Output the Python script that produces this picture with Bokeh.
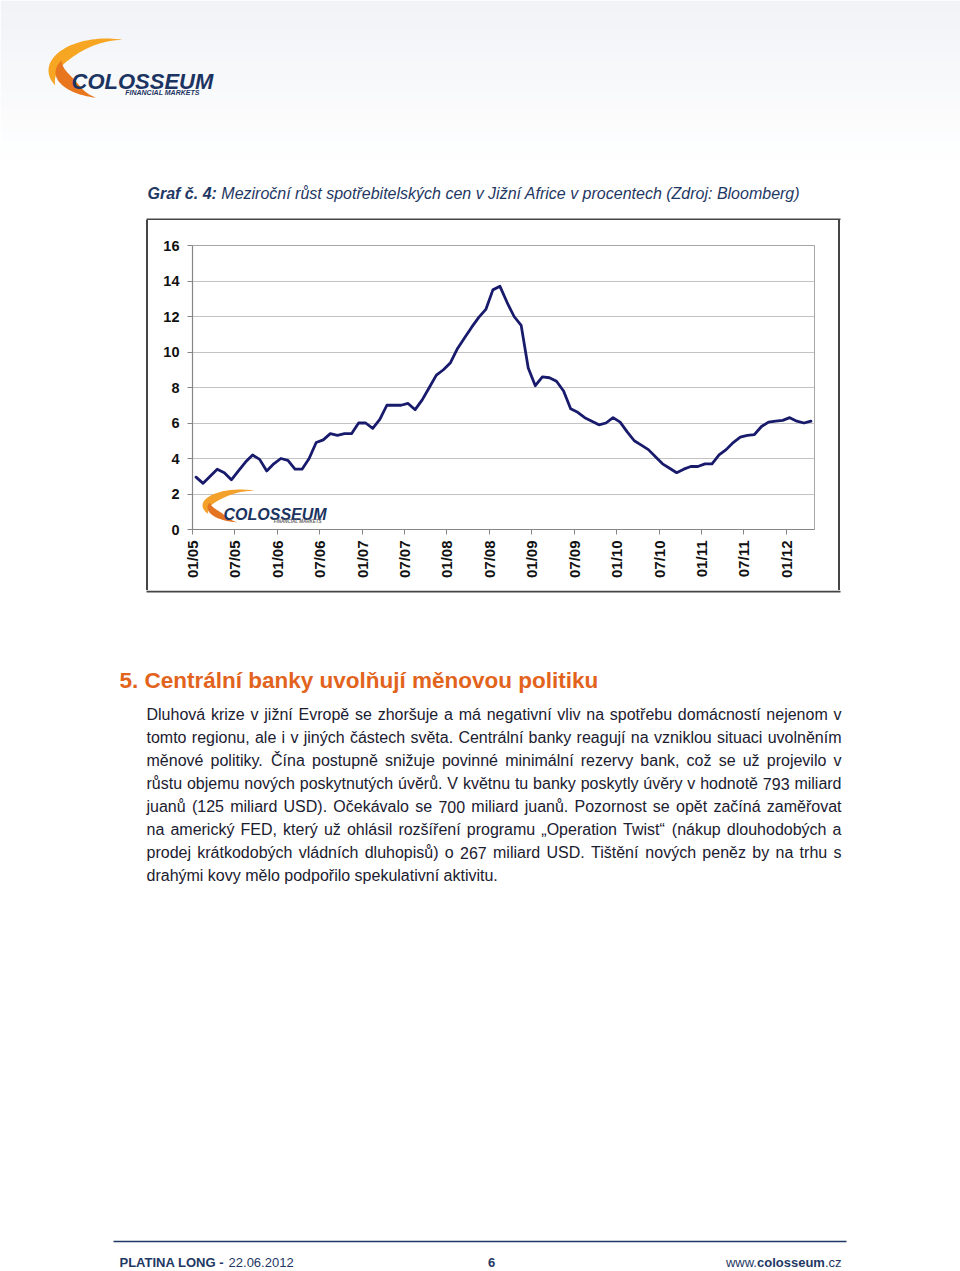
import math
import unicodedata
import numpy as np
from bokeh.plotting import figure
from bokeh.layouts import column, row
from bokeh.models import Label, PolyAnnotation, FixedTicker, Range1d, Spacer
from bokeh.embed import file_html
from bokeh.resources import INLINE

# ---------------- data ----------------
months = list(range(88))  # monthly index, Jan 2005 .. Apr 2012
cpi = [2.95, 2.6, 3.0, 3.4, 3.2, 2.8, 3.3, 3.8, 4.2, 3.95, 3.3, 3.7,
       4.0, 3.9, 3.4, 3.4, 4.0, 4.9, 5.05, 5.4, 5.3, 5.4, 5.4, 6.0,
       6.0, 5.7, 6.2, 7.0, 7.0, 7.0, 7.1, 6.75, 7.3, 8.0, 8.7, 9.0,
       9.4, 10.2, 10.8, 11.4, 11.95, 12.4, 13.5, 13.7, 12.8, 12.0, 11.5, 9.1,
       8.1, 8.6, 8.55, 8.35, 7.8, 6.8, 6.6, 6.3, 6.1, 5.9, 6.0, 6.3,
       6.05, 5.5, 5.0, 4.75, 4.5, 4.1, 3.7, 3.45, 3.2, 3.4, 3.55, 3.55,
       3.7, 3.7, 4.2, 4.5, 4.9, 5.2, 5.3, 5.35, 5.8, 6.05, 6.1, 6.15,
       6.3, 6.1, 6.0, 6.1]
tick_pos = [0, 6, 12, 18, 24, 30, 36, 42, 48, 54, 60, 66, 72, 78, 84]
tick_labels = ["01/05", "07/05", "01/06", "07/06", "01/07", "07/07", "01/08", "07/08",
               "01/09", "07/09", "01/10", "07/10", "01/11", "07/11", "01/12"]
y_ticks = [0, 2, 4, 6, 8, 10, 12, 14, 16]

caption_bold = "Graf č. 4:"
caption_rest = "Meziroční růst spotřebitelských cen v Jižní Africe v procentech (Zdroj: Bloomberg)"
heading = "5. Centrální banky uvolňují měnovou politiku"
body_lines = [
    "Dluhová krize v jižní Evropě se zhoršuje a má negativní vliv na spotřebu domácností nejenom v",
    "tomto regionu, ale i v jiných částech světa. Centrální banky reagují na vzniklou situaci uvolněním",
    "měnové politiky. Čína postupně snižuje povinné minimální rezervy bank, což se už projevilo v",
    "růstu objemu nových poskytnutých úvěrů. V květnu tu banky poskytly úvěry v hodnotě 793 miliard",
    "juanů (125 miliard USD). Očekávalo se 700 miliard juanů. Pozornost se opět začíná zaměřovat",
    "na americký FED, který už ohlásil rozšíření programu „Operation Twist“ (nákup dlouhodobých a",
    "prodej krátkodobých vládních dluhopisů) o 267 miliard USD. Tištění nových peněz by na trhu s",
    "drahými kovy mělo podpořilo spekulativní aktivitu.",
]

# ---------------- geometry (page pixels) ----------------
PW, PH = 960, 1271
HEAD_H = 220             # header panel height
CH_X0, CH_X1 = 148, 838  # chart figure horizontal extent
CH_Y1 = 590              # chart figure bottom
L, R, T, B = 192, 814, 245, 529   # plot frame in page px
XMAX, YMAX = 88, 16

REG = {' ': 278, '(': 333, ')': 333, ',': 278, '-': 333, '.': 278, '/': 278, ':': 278,
       '„': 333, '“': 333, 'A': 667, 'B': 667, 'C': 722, 'D': 722, 'E': 667, 'F': 611,
       'G': 778, 'H': 722, 'I': 278, 'J': 500, 'K': 667, 'L': 556, 'M': 833, 'N': 722,
       'O': 778, 'P': 667, 'Q': 778, 'R': 722, 'S': 667, 'T': 611, 'U': 722, 'V': 667,
       'W': 944, 'X': 667, 'Y': 667, 'Z': 611, 'a': 556, 'b': 556, 'c': 500, 'd': 556,
       'e': 556, 'f': 278, 'g': 556, 'h': 556, 'i': 222, 'j': 222, 'k': 500, 'l': 222,
       'm': 833, 'n': 556, 'o': 556, 'p': 556, 'q': 556, 'r': 333, 's': 500, 't': 278,
       'u': 556, 'v': 500, 'w': 722, 'x': 500, 'y': 500, 'z': 500}
BOLD = {' ': 278, '(': 333, ')': 333, ',': 278, '-': 333, '.': 278, '/': 278, ':': 333,
        'A': 722, 'B': 722, 'C': 722, 'D': 722, 'E': 667, 'F': 611, 'G': 778, 'H': 722,
        'I': 278, 'J': 556, 'K': 722, 'L': 611, 'M': 833, 'N': 722, 'O': 778, 'P': 667,
        'Q': 778, 'R': 722, 'S': 667, 'T': 611, 'U': 722, 'V': 667, 'W': 944, 'X': 667,
        'Y': 667, 'Z': 611, 'a': 556, 'b': 611, 'c': 556, 'd': 611, 'e': 556, 'f': 333,
        'g': 611, 'h': 611, 'i': 278, 'j': 278, 'k': 556, 'l': 278, 'm': 889, 'n': 611,
        'o': 611, 'p': 611, 'q': 611, 'r': 389, 's': 556, 't': 333, 'u': 611, 'v': 556,
        'w': 778, 'x': 556, 'y': 556, 'z': 500}


def tw(s, size, bold=False):
    tbl = BOLD if bold else REG
    w = 0
    for ch in s:
        if ch.isdigit():
            w += 556
        elif ch in tbl:
            w += tbl[ch]
        elif ch in "íìîï":
            w += 278
        else:
            b = unicodedata.normalize("NFD", ch)[0]
            w += tbl.get(b, 556)
    return w * size / 1000.0


# ---------------- helpers ----------------
def canvas_fig(w, h):
    f = figure(width=w, height=h, x_range=Range1d(0, w), y_range=Range1d(h, 0),
               x_axis_type=None, y_axis_type=None, min_border=0,
               toolbar_location=None, output_backend="svg", title=None)
    f.outline_line_color = None
    f.background_fill_color = "white"
    f.border_fill_color = "white"
    return f


class Panel:
    def __init__(self, fig, ox, oy, conv=None):
        self.fig, self.ox, self.oy, self.conv = fig, ox, oy, conv

    def c(self, x, y):
        if self.conv:
            return self.conv(x, y)
        return x - self.ox, y - self.oy

    def poly(self, xs, ys, fill=None, line=None, lw=1.0):
        pts = [self.c(x, y) for x, y in zip(xs, ys)]
        self.fig.add_layout(PolyAnnotation(
            xs=[q[0] for q in pts], ys=[q[1] for q in pts],
            fill_color=fill, fill_alpha=1.0 if fill else 0.0,
            line_color=line, line_width=lw, line_alpha=1.0 if line else 0.0))

    def lab(self, x, y, text, size, color, style="normal", align="left",
            font="Liberation Sans"):
        qx, qy = self.c(x, y)
        self.fig.add_layout(Label(x=qx, y=qy, text=text, text_font=font,
                                  text_font_size=f"{size}px", text_font_style=style,
                                  text_color=color, text_align=align,
                                  text_baseline="alphabetic"))

    def crescent(self, cx, cy, rx, ry, a1, a2, frac, color, n=40):
        th = np.radians(np.linspace(a1, a2, n))
        f = frac * np.sin(np.pi * (th - th[0]) / (th[-1] - th[0]))
        ox = cx + rx * np.cos(th)
        oy = cy - ry * np.sin(th)
        ix = cx + rx * (1 - f) * np.cos(th)
        iy = cy - ry * (1 - f) * np.sin(th)
        self.poly(list(ox) + list(ix[::-1]), list(oy) + list(iy[::-1]), fill=color)


NAVY = "#1f3864"
LOGO_NAVY = "#1c3461"
FRAME = "#454545"

# ---------------- header ----------------
head = canvas_fig(PW, HEAD_H)
hp = Panel(head, 0, 0)
top = np.array([241, 243, 247])
for k in range(17):
    y0 = k * 10
    c = top + (np.array([255, 255, 255]) - top) * (k / 16.0)
    col = "#%02x%02x%02x" % tuple(int(round(v)) for v in c)
    hp.poly([0, PW, PW, 0], [y0, y0, y0 + 10.5, y0 + 10.5], fill=col)
hp.crescent(106, 70, 58, 32, 74, 208, 0.28, "#f6a623")
hp.crescent(108, 72, 53, 26, 152, 256, 0.30, "#e8761f")
hp.lab(71, 81, "COLOSSEUM", 22, LOGO_NAVY, "bold italic")
hp.lab(199, 92, "FINANCIAL MARKETS", 7, LOGO_NAVY, "bold italic", "right")
hp.lab(147, 193, caption_bold, 16, NAVY, "bold italic")
hp.lab(147 + tw(caption_bold + " ", 16, bold=True), 193, caption_rest, 16, NAVY, "italic")
hp.poly([146, 840, 840, 146], [218, 218, 220, 220], fill=FRAME)

# ---------------- chart ----------------
p = figure(width=CH_X1 - CH_X0, height=CH_Y1 - HEAD_H, x_range=(0, XMAX), y_range=(0, YMAX),
           output_backend="svg", toolbar_location=None,
           min_border_left=L - CH_X0, min_border_right=CH_X1 - R,
           min_border_top=T - HEAD_H, min_border_bottom=CH_Y1 - B)
p.background_fill_color = "white"
p.border_fill_color = "white"
p.outline_line_color = "#a6a6a6"
p.xaxis.ticker = FixedTicker(ticks=tick_pos)
p.xaxis.major_label_overrides = {t: s for t, s in zip(tick_pos, tick_labels)}
p.xaxis.major_label_orientation = math.pi / 2
p.yaxis.ticker = FixedTicker(ticks=y_ticks)
for ax in (p.xaxis, p.yaxis):
    ax.major_label_text_font = "Liberation Sans"
    ax.major_label_text_font_style = "bold"
    ax.major_label_text_color = "#111111"
    ax.axis_line_color = "#868686"
    ax.axis_line_width = 1.2
    ax.major_tick_line_color = "#868686"
    ax.major_tick_out = 5
    ax.major_tick_in = 0
    ax.minor_tick_line_color = None
p.xaxis.major_label_text_font_size = "15px"
p.yaxis.major_label_text_font_size = "14.5px"
p.xaxis.major_label_standoff = 6
p.yaxis.major_label_standoff = 8
p.xgrid.visible = False
p.ygrid.grid_line_color = "#c3c3c3"
p.ygrid.grid_line_width = 1

p.line(x=[m + 0.5 for m in months], y=cpi, line_color="#181a6c", line_width=2.8,
       line_join="round", line_cap="round")

cp = Panel(p, 0, 0, conv=lambda x, y: ((x - L) * XMAX / (R - L), (B - y) * YMAX / (B - T)))
cp.crescent(240, 505, 38, 16, 68, 212, 0.35, "#f3a12a")
cp.crescent(242, 507, 35, 15, 160, 262, 0.30, "#e37522")
cp.lab(223, 514, "COLOSSEUM", 16, LOGO_NAVY, "bold italic")
cp.lab(321, 520.5, "FINANCIAL MARKETS", 4.5, "#666666", "bold italic", "right")

# ---------------- body text ----------------
body = canvas_fig(PW, PH - CH_Y1)
bp = Panel(body, 0, CH_Y1)
bp.poly([146, 840, 840, 146], [590, 590, 592, 592], fill=FRAME)
bp.lab(119, 680, heading, 22.5, "#e2631c", "bold")

BODY_COL = "#1b2030"
left_x, right_x = 146, 841
for k, line in enumerate(body_lines):
    yb = 714 + 23 * k
    if k == len(body_lines) - 1:
        bp.lab(left_x, yb, line, 16, BODY_COL)
        continue
    words = line.split(" ")
    widths = [tw(w, 16) for w in words]
    gap = (right_x - left_x - sum(widths)) / (len(words) - 1)
    x = left_x
    for i, (w, wd) in enumerate(zip(words, widths)):
        if i == len(words) - 1:
            bp.lab(right_x, yb, w, 16, BODY_COL, align="right")
        else:
            bp.lab(x, yb, w, 16, BODY_COL)
        x += wd + gap

# footer
bp.poly([113, 846, 846, 113], [1240.3, 1240.3, 1241.8, 1241.8], fill=NAVY)
fb = 1262
bp.lab(119, fb, "PLATINA LONG -", 13, NAVY, "bold")
bp.lab(119 + tw("PLATINA LONG - ", 13, bold=True), fb, "22.06.2012", 13, NAVY)
bp.lab(491, fb, "6", 13, NAVY, "bold", "center")
bp.lab(841, fb, ".cz", 13, NAVY, align="right")
x_cz = 841 - tw(".cz", 13)
bp.lab(x_cz, fb, "colosseum", 13, NAVY, "bold", "right")
bp.lab(x_cz - tw("colosseum", 13, bold=True), fb, "www.", 13, NAVY, align="right")

CH_H = CH_Y1 - HEAD_H
chart_row = row(Spacer(width=146, height=CH_H),
                Spacer(width=2, height=CH_H, background=FRAME),
                p,
                Spacer(width=2, height=CH_H, background=FRAME),
                Spacer(width=PW - CH_X1 - 2, height=CH_H))
layout = column(head, chart_row, body)
open("out.html", "w").write(file_html(layout, INLINE))
